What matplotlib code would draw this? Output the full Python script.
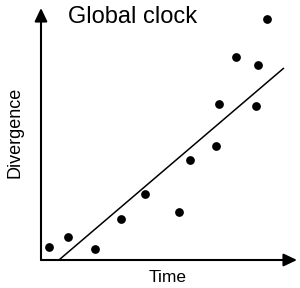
import matplotlib
matplotlib.use("Agg")
import matplotlib.pyplot as plt

plt.rcParams['font.family'] = ['Liberation Sans', 'DejaVu Sans']

# Data (arbitrary units)
time = [0.31, 1.05, 2.11, 3.13, 4.06, 5.39, 5.82, 6.84, 6.95, 7.62, 8.40, 8.48, 8.83]
divergence = [0.52, 0.91, 0.44, 1.63, 2.62, 1.90, 3.97, 4.52, 6.19, 8.06, 6.11, 7.74, 9.56]
fit_x = [0.70, 9.49]
fit_y = [0.00, 7.62]

title_text = "Global clock"
xlabel_text = "Time"
ylabel_text = "Divergence"

fig = plt.figure(figsize=(3.0, 2.88), dpi=100)
ax = fig.add_axes([41/300, 28/288, 256/300, 252/288])
ax.set_xlim(0, 10)
ax.set_ylim(0, 10)
for s in ax.spines.values():
    s.set_visible(False)
ax.set_xticks([])
ax.set_yticks([])

ax.plot(fit_x, fit_y, color='black', lw=1.1, solid_capstyle='butt')
ax.plot(time, divergence, 'o', color='black', ms=6.3, markeredgewidth=0)

arrow_kw = dict(arrowstyle='-|>,head_length=0.8,head_width=0.38', color='black', lw=1.5,
                shrinkA=0, shrinkB=0)
ax.annotate('', xy=(1.0, 0), xytext=(0, 0), xycoords='axes fraction',
            textcoords='axes fraction', arrowprops=arrow_kw, annotation_clip=False)
ax.annotate('', xy=(0, 1.0), xytext=(0, 0), xycoords='axes fraction',
            textcoords='axes fraction', arrowprops=arrow_kw, annotation_clip=False)

fig.text(133/300, 1 - 17/288, title_text, fontsize=17, ha='center', va='center')
fig.text(168/300, 1 - 278/288, xlabel_text, fontsize=12.5, ha='center', va='center')
fig.text(15/300, 1 - 132/288, ylabel_text, fontsize=13, ha='center', va='center', rotation=90)

fig.savefig('out.png', dpi=100)
